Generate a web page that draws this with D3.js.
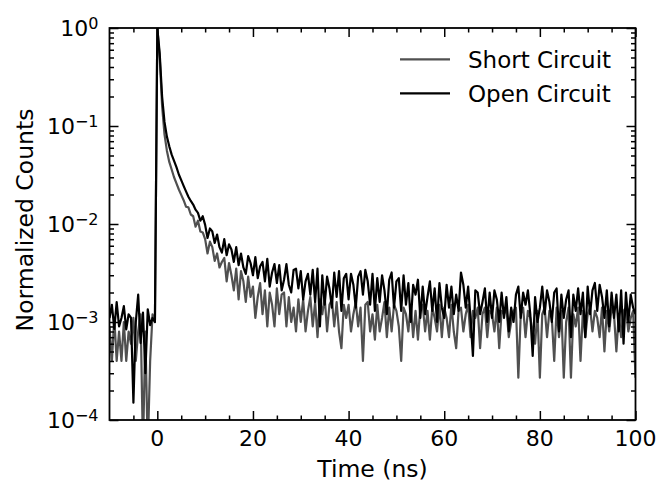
<!DOCTYPE html>
<html>
<head>
<meta charset="utf-8">
<script src="https://cdn.jsdelivr.net/npm/d3@7"></script>
<style>
  html, body { margin: 0; padding: 0; background: #fff; }
  svg text { font-family: "DejaVu Sans", sans-serif; fill: #000; }
</style>
</head>
<body>
<svg id="chart" width="660" height="485"></svg>
<script>
// ---------------- data ----------------
const timeStart = -10;      // ns
const timeStep = 0.5;       // ns
const seriesNames = ["Short Circuit", "Open Circuit"];
const xTickLabels = [0, 20, 40, 60, 80, 100];
const yTickExponents = [0, -1, -2, -3, -4];

const shortCircuit = [
  // -10 .. -0.5
  0.0009, 0.0004, 0.0011, 0.0004, 0.0008, 0.0004, 0.0010, 0.0004, 0.0008, 0.0006,
  0.0011, 0.0004, 0.0008, 0.0012, 0.00005, 0.0008, 0.00005, 0.0004, 0.0012, 0.0010,
  // 0 .. 9.5
  1.0, 0.5, 0.16, 0.082, 0.056, 0.043, 0.036, 0.030, 0.026, 0.0225,
  0.0198, 0.0175, 0.0150, 0.0148, 0.0125, 0.0120, 0.0094, 0.0108, 0.0084, 0.0082,
  // 10 .. 19.5
  0.0070, 0.0050, 0.0066, 0.0058, 0.0042, 0.0050, 0.0036, 0.0041, 0.0045, 0.0026,
  0.0040, 0.0030, 0.0021, 0.0035, 0.0017, 0.0033, 0.0026, 0.0016, 0.0029, 0.0018,
  // 20 .. 29.5
  0.0023, 0.0011, 0.0018, 0.0025, 0.0012, 0.0021, 0.0009, 0.0020, 0.0015, 0.0009,
  0.0022, 0.0012, 0.0019, 0.0020, 0.0009, 0.0018, 0.0010, 0.0014, 0.0008, 0.0017,
  // 30 .. 39.5
  0.0010, 0.0017, 0.0008, 0.0013, 0.0018, 0.0009, 0.0016, 0.0007, 0.0017, 0.0012,
  0.0018, 0.0008, 0.0015, 0.0017, 0.0009, 0.0016, 0.0008, 0.00054, 0.0015, 0.0011,
  // 40 .. 49.5
  0.0015, 0.0008, 0.0012, 0.0016, 0.0009, 0.0014, 0.0004, 0.0015, 0.0016, 0.0008,
  0.0012, 0.00066, 0.0015, 0.0008, 0.0011, 0.0016, 0.0007, 0.0014, 0.0008, 0.0015,
  // 50 .. 59.5
  0.0013, 0.0009, 0.0004, 0.0014, 0.0012, 0.0008, 0.0015, 0.0007, 0.0013, 0.00066,
  0.0014, 0.0015, 0.0008, 0.0013, 0.00066, 0.0014, 0.0011, 0.0008, 0.0015, 0.0007,
  // 60 .. 69.5
  0.0014, 0.0011, 0.0007, 0.0015, 0.0008, 0.00054, 0.0013, 0.0014, 0.0008, 0.0012,
  0.0015, 0.0007, 0.0013, 0.0011, 0.0014, 0.00054, 0.0012, 0.0014, 0.0007, 0.0013,
  // 70 .. 79.5
  0.0012, 0.0008, 0.0014, 0.00054, 0.0013, 0.0012, 0.0014, 0.0007, 0.0010, 0.0013,
  0.0014, 0.00027, 0.0012, 0.0014, 0.0007, 0.0013, 0.0011, 0.0008, 0.0006, 0.0013,
  // 80 .. 89.5
  0.00027, 0.0012, 0.0014, 0.0007, 0.0013, 0.0011, 0.0004, 0.0014, 0.0007, 0.0013,
  0.00027, 0.0010, 0.0014, 0.00027, 0.0012, 0.0009, 0.0014, 0.0004, 0.0013, 0.0007,
  // 90 .. 100
  0.0012, 0.0014, 0.0008, 0.0013, 0.0011, 0.0007, 0.0014, 0.0005, 0.0013, 0.0008,
  0.0014, 0.0012, 0.0005, 0.0012, 0.0007, 0.0013, 0.0014, 0.0008, 0.0011, 0.0013, 0.00027
];

const openCircuit = [
  // -10 .. -0.5
  0.0011, 0.0015, 0.00085, 0.0016, 0.0009, 0.0011, 0.00145, 0.00084, 0.0012, 0.0011,
  0.00015, 0.0010, 0.0019, 0.00061, 0.00125, 0.0003, 0.00135, 0.00093, 0.0011, 0.0010,
  // 0 .. 9.5
  1.0, 0.55, 0.2, 0.11, 0.078, 0.062, 0.051, 0.044, 0.038, 0.032,
  0.028, 0.0245, 0.0215, 0.019, 0.0172, 0.0158, 0.0140, 0.0130, 0.0108, 0.0120,
  // 10 .. 19.5
  0.0098, 0.0072, 0.0090, 0.0084, 0.0064, 0.0078, 0.0058, 0.0051, 0.0070, 0.0048,
  0.0062, 0.0055, 0.0041, 0.0058, 0.0038, 0.0050, 0.0036, 0.0031, 0.0047, 0.0040,
  // 20 .. 29.5
  0.0030, 0.0046, 0.0028, 0.0037, 0.0041, 0.0026, 0.0044, 0.0023, 0.0032, 0.0039,
  0.0025, 0.0038, 0.0021, 0.0027, 0.0039, 0.0024, 0.0020, 0.0034, 0.0035, 0.0022,
  // 30 .. 39.5
  0.0033, 0.0017, 0.0026, 0.0031, 0.0019, 0.0034, 0.0016, 0.0035, 0.0009, 0.0030,
  0.0015, 0.0029, 0.0022, 0.0014, 0.0032, 0.0018, 0.0033, 0.0013, 0.0028, 0.0031,
  // 40 .. 49.5
  0.0017, 0.0031, 0.0024, 0.0014, 0.0029, 0.0033, 0.0019, 0.0034, 0.0026, 0.0015,
  0.0031, 0.0013, 0.0028, 0.0016, 0.0030, 0.0021, 0.0012, 0.0027, 0.0032, 0.0014,
  // 50 .. 59.5
  0.0026, 0.0028, 0.0013, 0.0030, 0.0015, 0.0025, 0.0010, 0.0024, 0.0019, 0.0027,
  0.0011, 0.0023, 0.0012, 0.0018, 0.0026, 0.0013, 0.0022, 0.0010, 0.0025, 0.0014,
  // 60 .. 69.5
  0.0011, 0.0024, 0.0014, 0.0023, 0.0012, 0.0019, 0.0013, 0.0032, 0.0024, 0.0014,
  0.0023, 0.0011, 0.00045, 0.0021, 0.0020, 0.0012, 0.0016, 0.0022, 0.0010, 0.0020,
  // 70 .. 79.5
  0.0011, 0.0021, 0.0017, 0.0010, 0.0020, 0.0011, 0.0018, 0.0008, 0.0014, 0.0010,
  0.0019, 0.0023, 0.0011, 0.0020, 0.0015, 0.0021, 0.0012, 0.00045, 0.0018, 0.0010,
  // 80 .. 89.5
  0.0014, 0.0023, 0.0012, 0.0021, 0.0016, 0.0010, 0.0020, 0.0022, 0.0008, 0.0019,
  0.0011, 0.0017, 0.0021, 0.0007, 0.0019, 0.0013, 0.0022, 0.0012, 0.0020, 0.0007,
  // 90 .. 100
  0.0023, 0.0012, 0.0021, 0.0025, 0.0013, 0.0024, 0.0018, 0.0011, 0.0021, 0.0009,
  0.0020, 0.0011, 0.0019, 0.0008, 0.0021, 0.0006, 0.0020, 0.0010, 0.0019, 0.0014, 0.0012
];

// ---------------- layout ----------------
const M = { left: 109.5, right: 635.5, top: 28, bottom: 420 };
const colors = ["#505050", "#000000"];

const svg = d3.select("#chart");
const x = d3.scaleLinear().domain([-10, 100]).range([M.left, M.right]);
const y = d3.scaleLog().domain([1e-4, 1]).range([M.bottom, M.top]);

svg.append("defs").append("clipPath").attr("id", "plotClip")
  .append("rect")
  .attr("x", M.left).attr("y", M.top)
  .attr("width", M.right - M.left).attr("height", M.bottom - M.top);

// ---------------- data lines ----------------
const series = [shortCircuit, openCircuit];
const line = d3.line()
  .x((d, i) => x(timeStart + i * timeStep))
  .y(d => y(d));

const plot = svg.append("g").attr("clip-path", "url(#plotClip)");
series.forEach((vals, k) => {
  plot.append("path")
    .datum(vals)
    .attr("fill", "none")
    .attr("stroke", colors[k])
    .attr("stroke-width", 2.2)
    .attr("stroke-linejoin", "round")
    .attr("d", line);
});

// ---------------- axes (inward ticks on all sides) ----------------
const xMajor = xTickLabels;
const xMinor = d3.range(-5, 100, 5).filter(v => v % 20 !== 0);
const yMajor = yTickExponents.map(e => Math.pow(10, e));
const yMinor = [];
[-4, -3, -2, -1].forEach(e => { for (let m = 2; m <= 9; m++) yMinor.push(m * Math.pow(10, e)); });

const MAJ = 9, MIN = 4.5;
function styleAxis(g) {
  g.select(".domain").remove();
  g.selectAll(".tick line").attr("stroke", "#000").attr("stroke-width", 1.5);
  g.selectAll(".tick text").remove();
}
svg.append("g").attr("transform", `translate(0,${M.bottom})`)
  .call(d3.axisBottom(x).tickValues(xMajor).tickSize(-MAJ)).call(styleAxis);
svg.append("g").attr("transform", `translate(0,${M.bottom})`)
  .call(d3.axisBottom(x).tickValues(xMinor).tickSize(-MIN)).call(styleAxis);
svg.append("g").attr("transform", `translate(0,${M.top})`)
  .call(d3.axisTop(x).tickValues(xMajor).tickSize(-MAJ)).call(styleAxis);
svg.append("g").attr("transform", `translate(0,${M.top})`)
  .call(d3.axisTop(x).tickValues(xMinor).tickSize(-MIN)).call(styleAxis);
svg.append("g").attr("transform", `translate(${M.left},0)`)
  .call(d3.axisLeft(y).tickValues(yMajor).tickSize(-MAJ)).call(styleAxis);
svg.append("g").attr("transform", `translate(${M.left},0)`)
  .call(d3.axisLeft(y).tickValues(yMinor).tickSize(-MIN)).call(styleAxis);
svg.append("g").attr("transform", `translate(${M.right},0)`)
  .call(d3.axisRight(y).tickValues(yMajor).tickSize(-MAJ)).call(styleAxis);
svg.append("g").attr("transform", `translate(${M.right},0)`)
  .call(d3.axisRight(y).tickValues(yMinor).tickSize(-MIN)).call(styleAxis);

// frame
svg.append("rect")
  .attr("x", M.left).attr("y", M.top)
  .attr("width", M.right - M.left).attr("height", M.bottom - M.top)
  .attr("fill", "none").attr("stroke", "#000").attr("stroke-width", 1.8);

// ---------------- tick labels ----------------
svg.append("g").selectAll("text").data(xMajor).join("text")
  .attr("x", d => x(d)).attr("y", M.bottom + 25.7)
  .attr("text-anchor", "middle").attr("font-size", 22)
  .text(d => d);

const yl = svg.append("g").selectAll("text").data(yTickExponents).join("text")
  .attr("x", 98.5).attr("y", d => y(Math.pow(10, d)) + 7.9)
  .attr("text-anchor", "end").attr("font-size", 22);
yl.append("tspan").text("10");
yl.append("tspan").attr("dy", -7).attr("font-size", 16)
  .text(d => (d < 0 ? "\u2212" + Math.abs(d) : String(d)));

// ---------------- axis labels ----------------
svg.append("text")
  .attr("x", (M.left + M.right) / 2).attr("y", 477)
  .attr("text-anchor", "middle").attr("font-size", 23.5)
  .text("Time (ns)");
svg.append("text")
  .attr("transform", `translate(33,220) rotate(-90)`)
  .attr("text-anchor", "middle").attr("font-size", 23.5)
  .text("Normalized Counts");

// ---------------- legend ----------------
const legendY = [59.3, 93.3];
const lg = svg.append("g");
seriesNames.forEach((name, k) => {
  lg.append("line")
    .attr("x1", 400).attr("x2", 450)
    .attr("y1", legendY[k]).attr("y2", legendY[k])
    .attr("stroke", colors[k]).attr("stroke-width", 2.2);
  lg.append("text")
    .attr("x", 468).attr("y", legendY[k] + 8.2)
    .attr("font-size", 23)
    .text(name);
});
</script>
</body>
</html>
